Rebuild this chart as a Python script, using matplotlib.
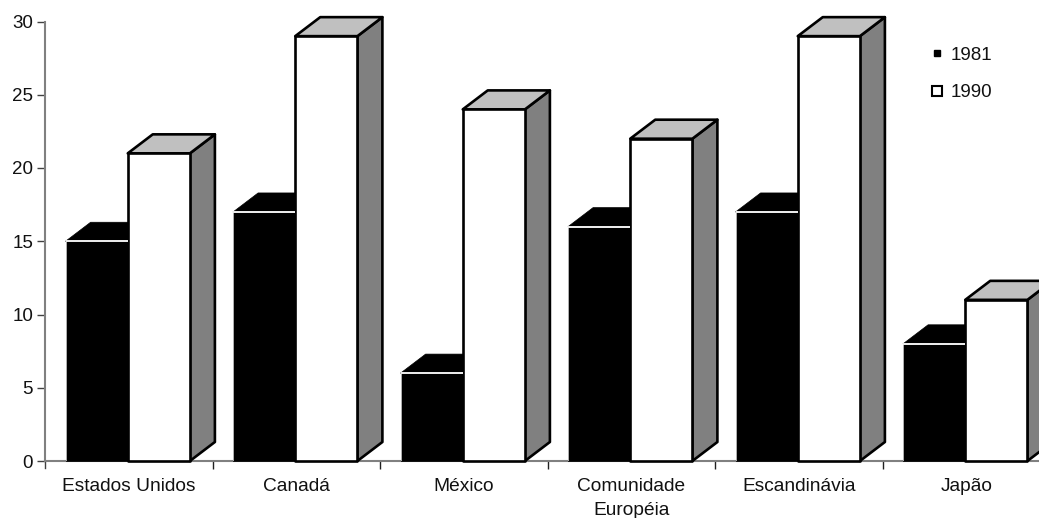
import matplotlib
matplotlib.use("Agg")
import matplotlib.pyplot as plt
from matplotlib.patches import Polygon
from matplotlib.lines import Line2D

categories = ["Estados Unidos", "Canadá", "México", "Comunidade\nEuropéia", "Escandinávia", "Japão"]
values_1981 = [15, 17, 6, 16, 17, 8]
values_1990 = [21, 29, 24, 22, 29, 11]
y_ticks = [0, 5, 10, 15, 20, 25, 30]

W, H = 1039, 518
plt.rcParams["font.family"] = ["Liberation Sans", "DejaVu Sans"]

fig = plt.figure(figsize=(W / 100, H / 100), dpi=100)
# The plot area runs slightly past the right edge of the figure
ax = fig.add_axes([45 / W, (H - 461) / H, 1005 / W, 439.5 / H])
ax.set_xlim(0, 6)
ax.set_ylim(0, 30)
ax.patch.set_visible(False)

BAR_W = 0.371
DEPTH_X = 25 / 167.5
DEPTH_Y = 19 / 14.65
SHIFT = -1 / 167.5
GREY_AXIS = "#808080"


def draw_bar(left, value, front, top, side, edge, lw):
    right = left + BAR_W
    ax.add_patch(Polygon([(right, 0), (right + DEPTH_X, DEPTH_Y),
                          (right + DEPTH_X, value + DEPTH_Y), (right, value)],
                         closed=True, fc=side, ec=edge, lw=lw, joinstyle="round",
                         clip_on=False, zorder=3))
    ax.add_patch(Polygon([(left, value), (left + DEPTH_X, value + DEPTH_Y),
                          (right + DEPTH_X, value + DEPTH_Y), (right, value)],
                         closed=True, fc=top, ec=edge, lw=lw, joinstyle="round",
                         clip_on=False, zorder=3))
    ax.add_patch(Polygon([(left, 0), (left, value), (right, value), (right, 0)],
                         closed=True, fc=front, ec=edge, lw=lw, joinstyle="round",
                         clip_on=False, zorder=3))


for i, (old, new) in enumerate(zip(values_1981, values_1990)):
    center = i + 0.5 + SHIFT
    # Earlier year: solid black with a thin white outline on its front face
    draw_bar(center - BAR_W, old, "black", "black", "black", "black", 0.5)
    ax.plot([center - BAR_W, center], [old, old], color="#f0f0f0", lw=1.4,
            solid_capstyle="butt", zorder=3.5)
    ax.plot([center - BAR_W, center - BAR_W], [0, old], color="#e8e8e8", lw=0.5, zorder=3.5)
    # Later year: white front, light top, mid-grey side
    draw_bar(center, new, "white", "#c0c0c0", "#808080", "black", 1.9)

for side in ("top", "right"):
    ax.spines[side].set_visible(False)
for side in ("left", "bottom"):
    ax.spines[side].set_color(GREY_AXIS)
    ax.spines[side].set_linewidth(1.5)
    ax.spines[side].set_zorder(2)

ax.set_yticks(y_ticks)
ax.tick_params(axis="y", length=5.5, width=1, color="#404040", labelsize=13.5,
               labelcolor="#111111", pad=3)
ax.set_xticks(range(1, 6))
ax.set_xticklabels([])
ax.tick_params(axis="x", length=5.5, width=1, color="#202020")
ax.plot([0, 0], [0, -7 / 14.65], color="#404040", lw=1, clip_on=False)

for i, name in enumerate(categories):
    ax.annotate(name, xy=(i + 0.5, 0), xycoords="data", xytext=(0, -12),
                textcoords="offset points", ha="center", va="top",
                fontsize=13.8, color="#111111", linespacing=1.6)

handles = [
    Line2D([], [], ls="none", marker="s", ms=5, mfc="black", mec="black", label="1981"),
    Line2D([], [], ls="none", marker="s", ms=7.5, mfc="white", mec="black", mew=1.5, label="1990"),
]
fig.legend(handles=handles, loc="upper left", bbox_to_anchor=(926 / W, 1 - 46.5 / H),
           bbox_transform=fig.transFigure, frameon=False, fontsize=13.5,
           labelspacing=1.1, handletextpad=0.1, handlelength=1.2, borderpad=0,
           borderaxespad=0, labelcolor="#111111")

fig.savefig("out.png", dpi=100)
